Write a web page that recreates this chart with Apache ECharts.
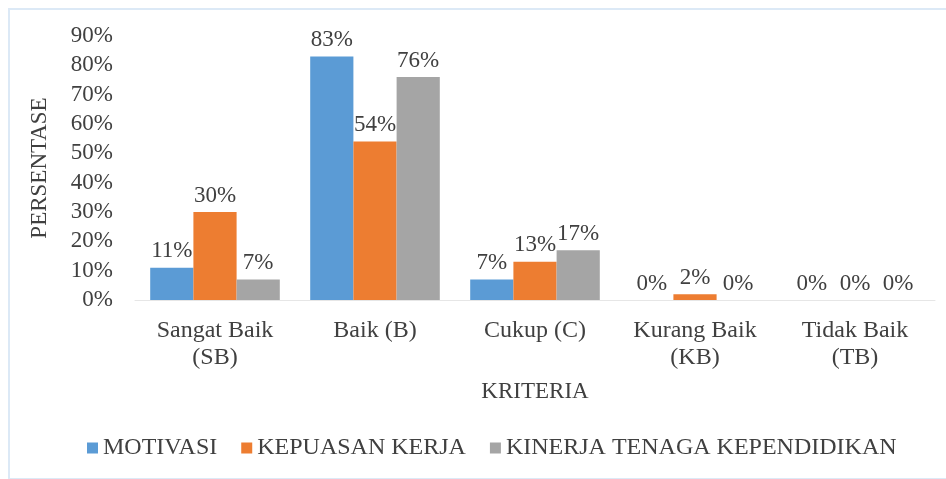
<!DOCTYPE html>
<html>
<head>
<meta charset="utf-8">
<script src="https://cdn.jsdelivr.net/npm/echarts@6/dist/echarts.min.js"></script>
<style>
  html, body { margin: 0; padding: 0; background: #fff; }
  #main { width: 946px; height: 479px; }
</style>
</head>
<body>
<div id="main"></div>
<script>
var categories = ['Sangat Baik\n(SB)', 'Baik (B)', 'Cukup (C)', 'Kurang Baik\n(KB)', 'Tidak Baik\n(TB)'];
var motivasi = [11, 83, 7, 0, 0];
var kepuasan = [30, 54, 13, 2, 0];
var kinerja = [7, 76, 17, 0, 0];
var seriesNames = ['MOTIVASI', 'KEPUASAN KERJA', 'KINERJA TENAGA KEPENDIDIKAN'];
var colors = ['#5b9bd5', '#ed7d31', '#a5a5a5'];

var font = 'Liberation Serif';
var textColor = '#404040';

function makeSeries(name, data, color) {
  return {
    name: name,
    type: 'bar',
    data: data,
    barGap: '0%',
    barCategoryGap: '19%',
    itemStyle: { color: color },
    label: {
      show: true,
      position: 'top',
      distance: 5,
      formatter: '{c}%',
      fontFamily: font,
      fontSize: 23,
      color: textColor
    }
  };
}

var myChart = echarts.init(document.getElementById('main'));
var option = {
  animation: false,
  graphic: [{
    type: 'rect',
    shape: { x: 9, y: 9, width: 940, height: 470 },
    style: { fill: 'none', stroke: '#dce9f6', lineWidth: 2 },
    silent: true
  }],
  grid: { left: 135, right: 11, top: 36, bottom: 179 },
  legend: {
    data: seriesNames,
    bottom: 14,
    left: 82,
    itemWidth: 11,
    itemHeight: 11,
    itemGap: 24,
    icon: 'rect',
    textStyle: { fontFamily: font, fontSize: 24, color: textColor }
  },
  xAxis: {
    type: 'category',
    data: categories,
    name: 'KRITERIA',
    nameLocation: 'middle',
    nameGap: 80,
    nameTextStyle: { fontFamily: font, fontSize: 23, color: textColor },
    axisLine: { lineStyle: { color: '#e6e6e6', width: 1 } },
    axisTick: { show: false },
    axisLabel: {
      fontFamily: font,
      fontSize: 24,
      color: textColor,
      lineHeight: 27,
      margin: 17,
      interval: 0
    }
  },
  yAxis: {
    type: 'value',
    min: 0,
    max: 90,
    interval: 10,
    name: 'PERSENTASE',
    nameLocation: 'middle',
    nameGap: 84,
    nameRotate: 90,
    nameTextStyle: { fontFamily: font, fontSize: 23, color: textColor },
    axisLine: { show: false },
    axisTick: { show: false },
    splitLine: { show: false },
    axisLabel: {
      formatter: '{value}%',
      fontFamily: font,
      fontSize: 23,
      color: textColor,
      margin: 22
    }
  },
  series: [
    makeSeries(seriesNames[0], motivasi, colors[0]),
    makeSeries(seriesNames[1], kepuasan, colors[1]),
    makeSeries(seriesNames[2], kinerja, colors[2])
  ]
};
myChart.setOption(option);
</script>
</body>
</html>
